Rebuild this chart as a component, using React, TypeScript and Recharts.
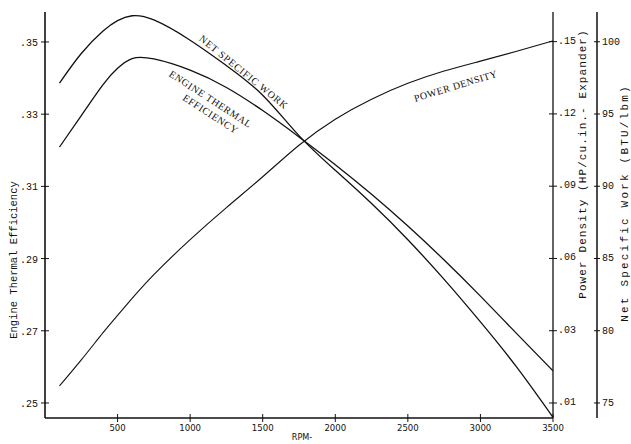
import React from "react";
import {
  LineChart,
  Line,
  XAxis,
  YAxis,
} from "recharts";

// RPM sample points
const rpm = [100, 250, 400, 500, 600, 750, 1000, 1250, 1500, 1750, 2000, 2250, 2500, 2750, 3000, 3250, 3500];

const thermalEfficiency = [
  0.3209, 0.3296, 0.3382, 0.3427, 0.3454, 0.3453, 0.3422, 0.3374, 0.331,
  0.3237, 0.316, 0.3078, 0.299, 0.2896, 0.2796, 0.2692, 0.2589,
];
const powerDensity = [
  0.0071, 0.0179, 0.0292, 0.0364, 0.0434, 0.0533, 0.0678, 0.0811, 0.0939,
  0.107, 0.1178, 0.1261, 0.1327, 0.1378, 0.1419, 0.146, 0.1503,
];
const netSpecificWork = [
  97.14, 99.19, 100.74, 101.46, 101.8, 101.51, 100.11, 98.35, 96.3, 93.5,
  91.1, 88.8, 86.3, 83.55, 80.61, 77.48, 74.01,
];

const rpmTicks = [500, 1000, 1500, 2000, 2500, 3000, 3500];
const effTicks = [0.25, 0.27, 0.29, 0.31, 0.33, 0.35];
const pdTicks = [0, 0.03, 0.06, 0.09, 0.12, 0.15];
const pdTickLabels = [".01", ".03", ".06", ".09", ".12", ".15"];
const nswTicks = [75, 80, 85, 90, 95, 100];

const data = rpm.map((r, i) => ({
  rpm: r,
  eff: thermalEfficiency[i],
  pd: powerDensity[i],
  nsw: netSpecificWork[i],
}));

const MONO = "'Liberation Mono', 'DejaVu Sans Mono', monospace";
const SERIF = "'Liberation Serif', 'DejaVu Serif', serif";
const INK = "#111";

const fmtDec = (v: number) => v.toFixed(2).replace(/^0/, "");

function LeftTick({ x, y, payload }: any) {
  return (
    <g>
      <line x1={x - 4} x2={x + 4} y1={y} y2={y} stroke={INK} />
      <text x={x - 7} y={y} dy={4} textAnchor="end" fontFamily={MONO} fontSize={10} fill={INK}>
        {fmtDec(payload.value)}
      </text>
    </g>
  );
}

function PdTick({ x, y, payload, index }: any) {
  const i = pdTicks.indexOf(payload.value);
  return (
    <g>
      <line x1={x - 4} x2={x + 4} y1={y} y2={y} stroke={INK} />
      <text x={x + 5} y={y} dy={2} textAnchor="start" fontFamily={MONO} fontSize={10} fill={INK}>
        {pdTickLabels[i >= 0 ? i : index]}
      </text>
    </g>
  );
}

function NswTick({ x, y, payload }: any) {
  return (
    <g>
      <line x1={x - 3} x2={x + 3} y1={y} y2={y} stroke={INK} />
      <text x={x + 5} y={y} dy={3} textAnchor="start" fontFamily={MONO} fontSize={10} fill={INK}>
        {payload.value}
      </text>
    </g>
  );
}

function BottomTick({ x, y, payload }: any) {
  return (
    <g>
      <line x1={x} x2={x} y1={y - 4} y2={y + 4} stroke={INK} />
      <text x={x} y={y + 13} textAnchor="middle" fontFamily="'DejaVu Sans Condensed', 'DejaVu Sans', sans-serif" fontSize={9.5} fill={INK}>
        {payload.value}
      </text>
    </g>
  );
}

export default function App() {
  return (
    <div style={{ position: "absolute", left: 0, top: 0, width: 631, height: 444, background: "#fff" }}>
      <LineChart
        width={631}
        height={444}
        data={data}
        margin={{ top: 12, right: 0, bottom: 0, left: 0 }}
      >
        <XAxis
          dataKey="rpm"
          type="number"
          domain={[0, 3500]}
          ticks={rpmTicks}
          height={26}
          tickSize={0}
          tickMargin={0}
          tickLine={false}
          axisLine={{ stroke: INK, strokeWidth: 1.3 }}
          tick={<BottomTick />}
          allowDataOverflow
        />
        <XAxis
          xAxisId="top"
          orientation="top"
          type="number"
          domain={[0, 3500]}
          height={0}
          tick={false}
          tickLine={false}
          axisLine={{ stroke: INK, strokeWidth: 1.2 }}
        />
        <YAxis
          yAxisId="eff"
          type="number"
          domain={[0.24584, 0.3583]}
          ticks={effTicks}
          width={45}
          tickSize={0}
          tickMargin={0}
          tickLine={false}
          axisLine={{ stroke: INK, strokeWidth: 1.6 }}
          tick={<LeftTick />}
          allowDataOverflow
        />
        <YAxis
          yAxisId="axisA"
          orientation="right"
          type="number"
          domain={[-0.00623, 0.1623]}
          ticks={pdTicks}
          width={44}
          tickSize={0}
          tickMargin={0}
          tickLine={false}
          axisLine={{ stroke: INK, strokeWidth: 1.3 }}
          tick={<PdTick />}
          allowDataOverflow
        />
        <YAxis
          yAxisId="axisB"
          orientation="right"
          type="number"
          domain={[73.96, 102.06]}
          ticks={nswTicks}
          width={34}
          tickSize={0}
          tickMargin={0}
          tickLine={false}
          axisLine={{ stroke: INK, strokeWidth: 1.5 }}
          tick={<NswTick />}
          allowDataOverflow
        />
        <Line yAxisId="axisA" dataKey="pd" type="natural" stroke={INK} strokeWidth={1.1} dot={false} isAnimationActive={false} />
        <Line yAxisId="axisB" dataKey="nsw" type="natural" stroke={INK} strokeWidth={1.3} dot={false} isAnimationActive={false} />
        <Line yAxisId="eff" dataKey="eff" type="natural" stroke={INK} strokeWidth={1.3} dot={false} isAnimationActive={false} />
      </LineChart>
      <svg width={631} height={444} style={{ position: "absolute", left: 0, top: 0, pointerEvents: "none" }}>
        <text x={14} y={260} transform="rotate(-90 14 260)" textAnchor="middle" dominantBaseline="middle" fontFamily={MONO} fontSize={10.5} fill={INK}>
          Engine Thermal Efficiency
        </text>
        <text x={583} y={164} transform="rotate(-90 583 164)" textAnchor="middle" dominantBaseline="middle" fontFamily={MONO} fontSize={11} fill={INK} letterSpacing={1.1}>
          Power Density (HP/cu.in.- Expander)
        </text>
        <text x={625} y={203} transform="rotate(-90 625 203)" textAnchor="middle" dominantBaseline="middle" fontFamily={MONO} fontSize={11} fill={INK} letterSpacing={2.2}>
          Net Specific Work (BTU/lbm)
        </text>
        <text x={302} y={437} textAnchor="middle" dominantBaseline="middle" fontFamily="'DejaVu Sans Condensed', 'DejaVu Sans', sans-serif" fontSize={9} fill={INK}>
          RPM-
        </text>
        <text x={243} y={73} transform="rotate(39 243 73)" textAnchor="middle" dominantBaseline="middle" fontFamily={SERIF} fontSize={10} letterSpacing={0.8} fill={INK}>
          NET SPECIFIC WORK
        </text>
        <text x={210} y={100} transform="rotate(33 210 100)" textAnchor="middle" dominantBaseline="middle" fontFamily={SERIF} fontSize={10} letterSpacing={0.6} fill={INK}>
          ENGINE THERMAL
        </text>
        <text x={210} y={115} transform="rotate(33 210 115)" textAnchor="middle" dominantBaseline="middle" fontFamily={SERIF} fontSize={10} letterSpacing={0.6} fill={INK}>
          EFFICIENCY
        </text>
        <text x={456} y={87} transform="rotate(-17 456 87)" textAnchor="middle" dominantBaseline="middle" fontFamily={SERIF} fontSize={10} letterSpacing={0.5} fill={INK}>
          POWER DENSITY
        </text>
      </svg>
    </div>
  );
}
